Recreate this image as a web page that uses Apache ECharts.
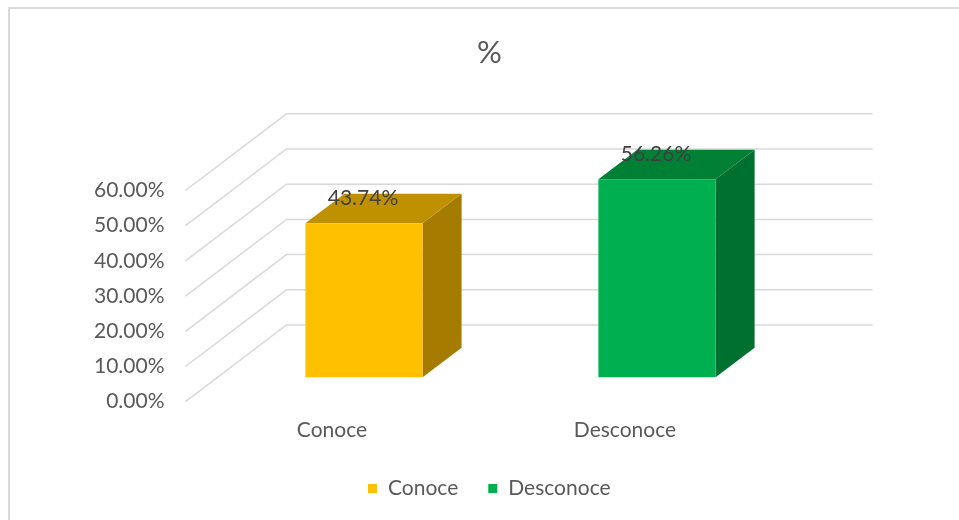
<!DOCTYPE html>
<html>
<head>
<meta charset="utf-8">
<title>%</title>
<script src="https://cdn.jsdelivr.net/npm/echarts@6/dist/echarts.min.js"></script>
<style>
  html, body { margin: 0; padding: 0; background: #ffffff; }
  #chart { width: 959px; height: 520px; }
</style>
</head>
<body>
<div id="chart"></div>
<script>
// Chart data
const categories = ['Conoce', 'Desconoce'];
const values = [43.74, 56.26];
const yTicks = [0, 10, 20, 30, 40, 50, 60];
const titleText = '%';

// Face colours for each column: front, top, side
const frontColors = ['#FFC000', '#BF9000', '#A67C00'];
const greenColors = ['#00B050', '#008035', '#007030'];
const palettes = [frontColors, greenColors];

const FONT = 'Lato, "Noto Sans", sans-serif';
const TEXT = '#595959';

// Oblique projection offsets, relative to the plane of the column fronts
const BACK = [69, -52.3];   // back wall
const FRONT = [-32, 24.4];  // front edge of the floor (axis labels)
const DEPTH = [39, -29.5];  // column depth

const chart = echarts.init(document.getElementById('chart'), null, { renderer: 'canvas' });

// Wall and floor grid lines for every value tick
function renderGrid(params, api) {
  const cs = params.coordSys;
  const y = api.coord([0, api.value(0)])[1];
  return {
    type: 'polyline',
    shape: {
      points: [
        [cs.x + FRONT[0], y + FRONT[1]],
        [cs.x + BACK[0], y + BACK[1]],
        [cs.x + cs.width + BACK[0], y + BACK[1]]
      ]
    },
    style: { stroke: '#d9d9d9', lineWidth: 1.5, fill: null },
    silent: true
  };
}

// 3D column: front face, side face, top face and value label
function makeColumnRenderer(pal) {
  return function (params, api) {
    const idx = api.value(0);
    const v = api.value(1);
    const top = api.coord([idx, v]);
    const base = api.coord([idx, 0]);
    const band = api.size([1, 0])[0];
    const w = band * 0.4;
    const xl = top[0] - w / 2;
    const xr = top[0] + w / 2;
    const yt = top[1];
    const yb = base[1];
    const dx = DEPTH[0], dy = DEPTH[1];
    return {
      type: 'group',
      children: [
        {
          type: 'polygon',
          shape: { points: [[xr, yt], [xr + dx, yt + dy], [xr + dx, yb + dy], [xr, yb]] },
          style: { fill: pal[2] }
        },
        {
          type: 'polygon',
          shape: { points: [[xl, yt], [xl + dx, yt + dy], [xr + dx, yt + dy], [xr, yt]] },
          style: { fill: pal[1] }
        },
        {
          type: 'rect',
          shape: { x: xl, y: yt, width: w, height: yb - yt },
          style: { fill: pal[0] }
        },
        {
          type: 'text',
          x: top[0] - 1,
          y: yt - 25,
          style: {
            text: v.toFixed(2) + '%',
            font: '21px ' + FONT,
            fill: '#404040',
            align: 'center',
            verticalAlign: 'middle'
          },
          z2: 10
        }
      ]
    };
  };
}

const columnSeries = categories.map(function (name, i) {
  return {
    type: 'custom',
    name: name,
    xAxisIndex: 0,
    yAxisIndex: 0,
    itemStyle: { color: palettes[i][0] },
    renderItem: makeColumnRenderer(palettes[i]),
    data: [[i, values[i]]],
    z: 3
  };
});

const option = {
  backgroundColor: '#ffffff',
  animation: false,
  title: {
    text: titleText,
    left: 477,
    top: 37,
    padding: 0,
    textStyle: { fontFamily: FONT, fontSize: 31, fontWeight: 'normal', color: TEXT }
  },
  legend: {
    data: categories,
    left: 368,
    top: 478,
    padding: 0,
    icon: 'rect',
    itemWidth: 9,
    itemHeight: 9,
    itemGap: 30,
    textStyle: { fontFamily: FONT, fontSize: 21, color: TEXT, padding: [0, 0, 0, 6] }
  },
  grid: [
    // plane of the column fronts
    { left: 217.5, right: 155.5, top: 166.1, bottom: 142.7 },
    // front edge of the floor, carrying the axis labels
    { left: 185.5, right: 187.5, top: 190.5, bottom: 118.3 }
  ],
  xAxis: [
    {
      gridIndex: 0, type: 'category', data: categories,
      axisLine: { show: false }, axisTick: { show: false }, axisLabel: { show: false },
      splitLine: { show: false }
    },
    {
      gridIndex: 1, type: 'category', data: categories,
      axisLine: { show: false }, axisTick: { show: false },
      axisLabel: { margin: 18, fontFamily: FONT, fontSize: 21, color: TEXT },
      splitLine: { show: false }
    }
  ],
  yAxis: [
    {
      gridIndex: 0, type: 'value', min: 0, max: 60, interval: 10,
      axisLine: { show: false }, axisTick: { show: false }, axisLabel: { show: false },
      splitLine: { show: false }
    },
    {
      gridIndex: 1, type: 'value', min: 0, max: 60, interval: 10,
      axisLine: { show: false }, axisTick: { show: false },
      splitLine: { show: false },
      axisLabel: {
        margin: 21, fontFamily: FONT, fontSize: 21, color: TEXT,
        formatter: function (v) { return v.toFixed(2) + '%'; }
      }
    }
  ],
  graphic: [
    {
      type: 'rect',
      shape: { x: 9, y: 8, width: 1000, height: 600 },
      style: { fill: null, stroke: '#d9d9d9', lineWidth: 2 },
      silent: true
    }
  ],
  series: [
    {
      type: 'custom',
      name: 'grid',
      xAxisIndex: 0,
      yAxisIndex: 0,
      renderItem: renderGrid,
      data: yTicks.map(function (t) { return [t]; }),
      encode: { y: 0 },
      z: 1,
      silent: true
    }
  ].concat(columnSeries)
};

chart.setOption(option);
</script>
</body>
</html>
